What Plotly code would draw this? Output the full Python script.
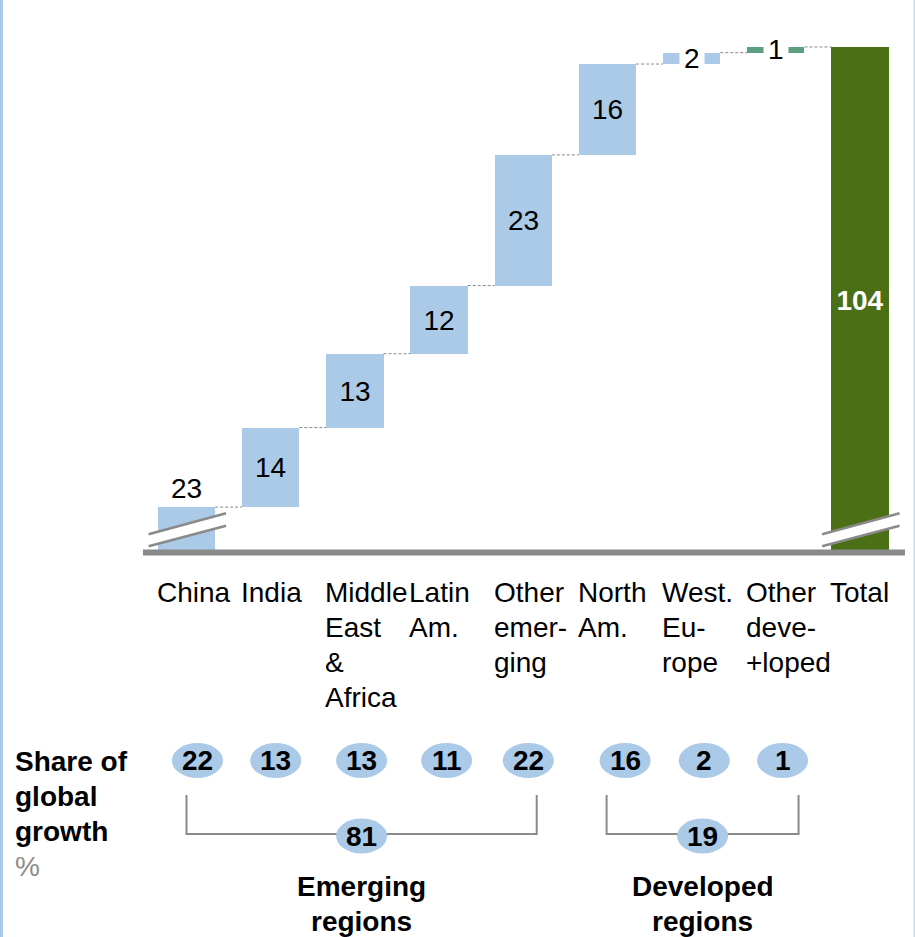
import plotly.graph_objects as go

# ---------------- data ----------------
categories = [["China"], ["India"], ["Middle", "East", "&", "Africa"], ["Latin", "Am."],
              ["Other", "emer-", "ging"], ["North", "Am."], ["West.", "Eu-", "rope"],
              ["Other", "deve-", "+loped"]]
total_category = ["Total"]
increments = [23, 14, 13, 12, 23, 16, 2, 1]
total_value = 104
share_values = [22, 13, 13, 11, 22, 16, 2, 1]
share_title = ["Share of", "global", "growth"]
share_unit = "%"
group_names = [["Emerging", "regions"], ["Developed", "regions"]]
group_members = [[0, 1, 2, 3, 4], [5, 6, 7]]

# ---------------- style / layout ----------------
FONT = "Liberation Sans, Arial, Helvetica, sans-serif"
BLUE = "#abcae7"
GREEN = "#4a6f14"
TEAL = "#5c9f80"
GRAY = "#8a8a8a"
FS = 28
LH = 35             # line height in px
W, H = 915, 937
PXU = 84.19         # px per category unit
BRK = 15            # axis-break amount removed from the tall bars
BAR_W = 0.68
XR = [-2.215, 8.653]
YR = [-67.69, 97.27]


def py(p):  # pixel row -> paper y
    return 1 - p / H


# cumulative positions
bottoms, tops = [], []
cum = 0
for v in increments:
    bottoms.append(max(cum - BRK, 0))
    tops.append(cum + v - BRK)
    cum += v

n = len(increments)
xs = list(range(n))
txtpos, colors = [], []
for i, v in enumerate(increments):
    if i == 0:
        txtpos.append("outside")
    elif tops[i] - bottoms[i] < 4:
        txtpos.append("none")
    else:
        txtpos.append("inside")
    colors.append(TEAL if tops[i] - bottoms[i] < 1.5 else BLUE)

fig = go.Figure()
fig.add_trace(go.Bar(
    x=xs, y=[t - b for t, b in zip(tops, bottoms)], base=bottoms,
    width=BAR_W, marker=dict(color=colors, line=dict(width=0)),
    text=[str(v) for v in increments], textposition=txtpos,
    insidetextanchor="middle", constraintext="none",
    textfont=dict(family=FONT, size=FS, color="black"),
    outsidetextfont=dict(family=FONT, size=FS, color="black"),
    cliponaxis=False, hoverinfo="skip", showlegend=False))

fig.add_trace(go.Bar(
    x=[n], y=[total_value - BRK], base=[0], width=BAR_W,
    marker=dict(color=GREEN, line=dict(width=0)),
    text=["<b>%d</b>" % total_value], textposition="inside",
    insidetextanchor="middle", constraintext="none",
    textfont=dict(family=FONT, size=FS, color="white"),
    hoverinfo="skip", showlegend=False))

# connectors
cx, cy = [], []
for i in range(n):
    cx += [i + BAR_W / 2, i + 1 - BAR_W / 2, None]
    cy += [tops[i], tops[i], None]
fig.add_trace(go.Scatter(x=cx, y=cy, mode="lines",
                         line=dict(color="#888888", width=1, dash="3px,2px"),
                         hoverinfo="skip", showlegend=False))

annotations = []
shapes = []

# small bar labels with white background
for i in range(n):
    if txtpos[i] == "none":
        annotations.append(dict(x=i, y=(tops[i] + bottoms[i]) / 2, xref="x", yref="y",
                                text=str(increments[i]), showarrow=False,
                                bgcolor="white", borderpad=4,
                                font=dict(family=FONT, size=FS, color="black")))


def text_lines(x, xref, first_center, lines, xanchor, bold=False, colors_=None):
    for k, t in enumerate(lines):
        col = (colors_[k] if colors_ else "black")
        annotations.append(dict(x=x, y=py(first_center + k * LH), xref=xref, yref="paper",
                                xanchor=xanchor, yanchor="middle", showarrow=False,
                                text=("<b>%s</b>" % t) if bold and col == "black" else t,
                                font=dict(family=FONT, size=FS, color=col)))


# category labels (left aligned at bar left edge)
for i, c in enumerate(categories + [total_category]):
    text_lines(i - BAR_W / 2 - 3 / PXU, "x", 592, c, "left")

# axis line
shapes.append(dict(type="line", xref="x", yref="y", x0=-0.517, x1=8.534, y0=0, y1=0,
                   line=dict(color=GRAY, width=6), layer="above"))

# axis break marks
for bx in [0, n]:
    x0, x1 = bx - 0.45, bx + 0.47
    shapes.append(dict(type="path", xref="x", yref="y",
                       path=f"M {x0},1.1 L {x1},4.7 L {x1},6.9 L {x0},3.2 Z",
                       fillcolor="white", line=dict(width=0), layer="above"))
    shapes.append(dict(type="line", xref="x", yref="y", x0=x0, x1=x1, y0=1.1, y1=4.7,
                       line=dict(color=GRAY, width=2.5), layer="above"))
    shapes.append(dict(type="line", xref="x", yref="y", x0=x0, x1=x1, y0=3.2, y1=6.9,
                       line=dict(color=GRAY, width=2.5), layer="above"))

# share of growth label
text_lines(13 / W, "paper", 761, share_title + [share_unit], "left", bold=True,
           colors_=["black"] * len(share_title) + ["#8c8c8c"])


def ellipse(xc, pyc, label):
    shapes.append(dict(type="circle", xref="x", yref="paper",
                       xsizemode="pixel", ysizemode="pixel",
                       xanchor=xc, yanchor=py(pyc),
                       x0=-25.5, x1=25.5, y0=-17.5, y1=17.5,
                       fillcolor=BLUE, line=dict(width=0), layer="above"))
    annotations.append(dict(x=xc, y=py(pyc), xref="x", yref="paper",
                            text="<b>%s</b>" % label, showarrow=False,
                            xanchor="center", yanchor="middle",
                            font=dict(family=FONT, size=FS, color="black")))


share_x_offset = [0.13, 0.06, 0.08, 0.09, 0.06, 0.21, 0.15, 0.08]
for i, v in enumerate(share_values):
    ellipse(i + share_x_offset[i], 760.5, str(v))

bracket_ext = [(0.0, 4.16), (4.99, 7.27)]
for (xl, xr), members, name in zip(bracket_ext, group_members, group_names):
    shapes.append(dict(type="path", xref="x", yref="paper",
                       path=f"M {xl},{py(795)} L {xl},{py(834)} L {xr},{py(834)} L {xr},{py(795)}",
                       line=dict(color=GRAY, width=2)))
    xm = (xl + xr) / 2
    ellipse(xm, 836, str(sum(share_values[k] for k in members)))
    text_lines(xm, "x", 886, name, "center", bold=True)

# frame lines left / right
shapes.append(dict(type="rect", xref="paper", yref="paper", x0=0, x1=3 / W, y0=0, y1=1,
                   fillcolor="#a9c9e8", line=dict(width=0)))
shapes.append(dict(type="rect", xref="paper", yref="paper", x0=913.5 / W, x1=1, y0=0, y1=1,
                   fillcolor="#c5dbef", line=dict(width=0)))

fig.update_layout(
    width=W, height=H, margin=dict(l=0, r=0, t=0, b=0),
    paper_bgcolor="white", plot_bgcolor="white",
    xaxis=dict(range=XR, visible=False, fixedrange=True),
    yaxis=dict(range=YR, visible=False, fixedrange=True),
    bargap=0, shapes=shapes, annotations=annotations,
    font=dict(family=FONT, size=FS, color="black"),
)

fig.write_html("out.html")
